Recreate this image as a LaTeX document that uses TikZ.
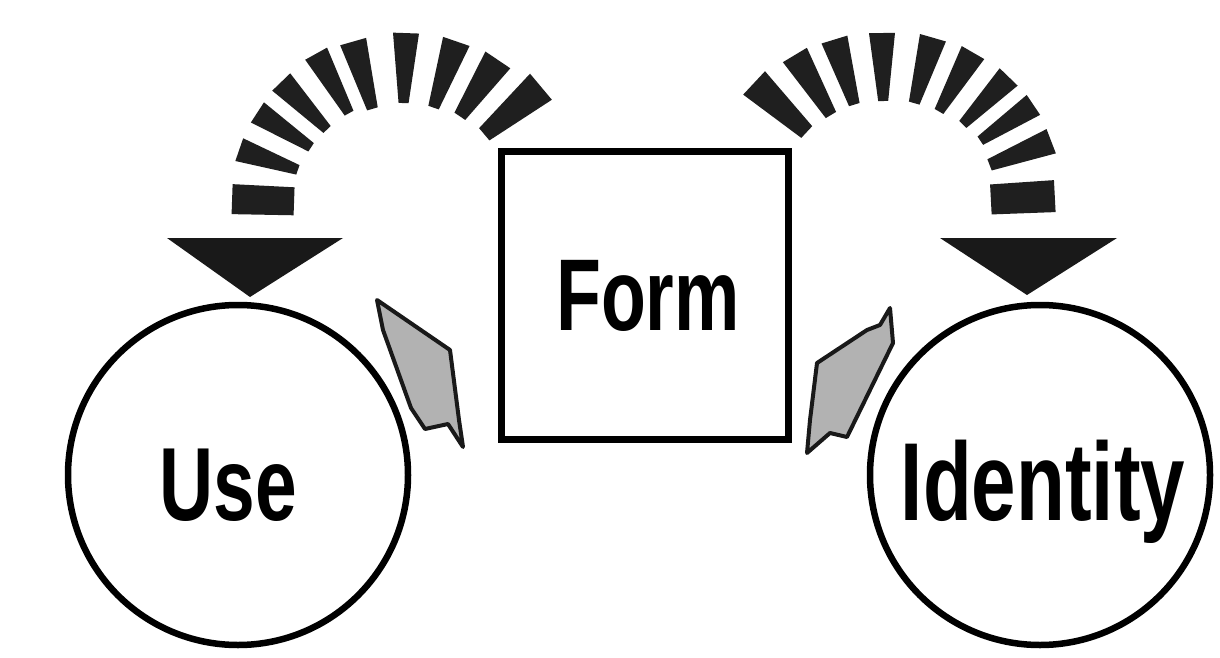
\documentclass[tikz,border=0pt]{standalone}
\usepackage{fontspec}
\newfontfamily\lblfont{Liberation Sans}[FakeStretch=0.72]
\begin{document}
\begin{tikzpicture}[x=1pt,y=-1pt,
  ring/.style={draw=black, line width=6.5pt, circle, minimum size=340pt, inner sep=0pt},
  formbox/.style={draw=black, line width=7pt, minimum width=287pt, minimum height=288pt, inner sep=0pt},
  word/.style={anchor=base, inner sep=0pt, font=\lblfont\bfseries\fontsize{#1}{#1}\selectfont},
  raydash/.style={fill=black!88},
  pointer/.style={fill=black!90},
  flap/.style={fill=black!30, draw=black!90, line width=4pt, line join=round}
]
\useasboundingbox (0,0) rectangle (1220,658);
\fill[white] (0,0) rectangle (1220,658);

% nodes
\node[ring] (use) at (238,475) {};
\node[ring] (identity) at (1040,475) {};
\node[formbox] (form) at (644.5,295) {};

\node[word=104] (usetext) at (228,520) {Use};
\node[word=102] (formtext) at (648,330) {Form};
\node[word=111] (identitytext) at (1043,520) {Identity};

% left arc of rays (Form -> Use)
\coordinate (lc) at (400,205);
\foreach \a/\r/\l/\wi/\wo in {178/137/62/28/30, 161/139/62/10/24, 147/138/64/10/24, 134/138/66/10/25,
  119/139/68/10/25, 106/135/70/11/27, 88/137/70/10/26, 71/138/70/11/28, 56/141/68/13/30, 40/147/74/16/34}{
  \begin{scope}[shift={(lc)}, rotate=\a]
    \fill[raydash] ({\r-\l/2},{-\wi/2}) -- ({\r+\l/2},{-\wo/2}) -- ({\r+\l/2},{\wo/2}) -- ({\r-\l/2},{\wi/2}) -- cycle;
  \end{scope}
}
% right arc of rays (Form -> Identity)
\coordinate (rc) at (885,205);
\foreach \a/\r/\l/\wi/\wo in {137/143/72/16/32, 121/140/70/12/28, 107/139/68/11/27, 91/138/68/10/26,
  74/140/68/11/27, 60/142/68/10/26, 46/145/66/10/25, 34/147/64/10/24, 21/145/66/12/26, 3/138/64/30/32}{
  \begin{scope}[shift={(rc)}, rotate=\a]
    \fill[raydash] ({\r-\l/2},{-\wi/2}) -- ({\r+\l/2},{-\wo/2}) -- ({\r+\l/2},{\wo/2}) -- ({\r-\l/2},{\wi/2}) -- cycle;
  \end{scope}
}

% arrow heads
\coordinate (ltip) at (250,297);
\coordinate (rtip) at (1027,295);
\fill[pointer] (167,238) -- (343,238) -- (ltip) -- cycle;
\fill[pointer] (940,238) -- (1117,238) -- (rtip) -- cycle;

% grey flaps
\filldraw[flap] (377,300) -- (450,350) -- (459,420) -- (463,447) -- (448,424) -- (425,429) -- (411,408) -- (383,330) -- cycle;
\filldraw[flap] (890,308) -- (893,343) -- (847,437) -- (830,433) -- (807,453) -- (810,420) -- (817,363) -- (867,330) -- (880,325) -- cycle;
\end{tikzpicture}
\end{document}
